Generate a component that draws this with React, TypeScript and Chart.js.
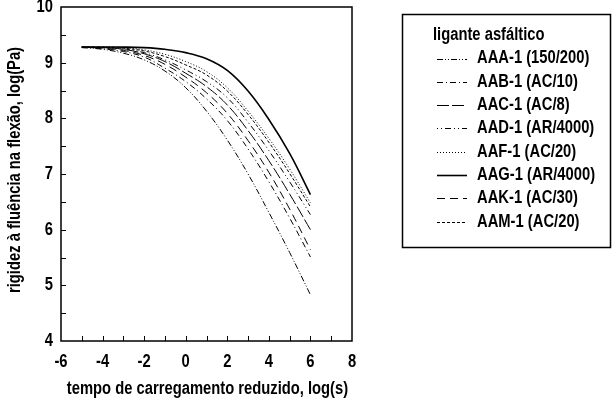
import React, { useEffect, useRef } from 'react';
import { Chart, registerables } from 'chart.js';

Chart.register(...registerables);

const xValues = [-5, -4, -3, -2, -1, 0, 1, 2, 3, 4, 5, 6];
const AAA = [9.27, 9.24, 9.17, 9.05, 8.85, 8.55, 8.13, 7.61, 7.0, 6.31, 5.59, 4.83];
const AAB = [9.28, 9.25, 9.2, 9.1, 8.9, 8.66, 8.35, 7.96, 7.45, 6.86, 6.21, 5.51];
const AAC = [9.28, 9.27, 9.24, 9.16, 9.02, 8.81, 8.57, 8.24, 7.78, 7.24, 6.64, 6.0];
const AAD = [9.28, 9.27, 9.25, 9.18, 9.05, 8.87, 8.66, 8.37, 7.93, 7.42, 6.86, 6.27];
const AAF = [9.28, 9.28, 9.27, 9.23, 9.15, 9.02, 8.84, 8.55, 8.13, 7.64, 7.09, 6.48];
const AAG = [9.28, 9.28, 9.28, 9.27, 9.24, 9.18, 9.07, 8.86, 8.49, 7.98, 7.37, 6.63];
const AAK = [9.28, 9.26, 9.22, 9.13, 8.97, 8.74, 8.46, 8.09, 7.6, 7.03, 6.37, 5.64];
const AAM = [9.28, 9.28, 9.26, 9.21, 9.11, 8.96, 8.78, 8.49, 8.07, 7.57, 7.01, 6.41];

const seriesLabels = [
  'AAA-1 (150/200)',
  'AAB-1 (AC/10)',
  'AAC-1 (AC/8)',
  'AAD-1 (AR/4000)',
  'AAF-1 (AC/20)',
  'AAG-1 (AR/4000)',
  'AAK-1 (AC/30)',
  'AAM-1 (AC/20)',
];
const seriesValues = [AAA, AAB, AAC, AAD, AAF, AAG, AAK, AAM];
const seriesDashes: number[][] = [
  [6, 2, 1, 2, 1, 2],
  [6, 3, 1, 3],
  [12, 3],
  [1, 3, 1, 3, 6, 3],
  [1, 2],
  [],
  [8, 5],
  [3, 2],
];
const seriesWidths = [1, 1, 1, 1, 1, 1.6, 1, 1];

const legendTitle = 'ligante asfáltico';
const xTitle = 'tempo de carregamento reduzido, log(s)';
const yTitle = 'rigidez à fluência na flexão, log(Pa)';

const FONT = 'bold 18px "Liberation Sans", Arial, sans-serif';
const CONDENSE = 0.82;

function drawText(ctx: any, text: string, x: number, y: number, align: string, rot = 0) {
  ctx.save();
  ctx.translate(x, y);
  if (rot) ctx.rotate(rot);
  ctx.scale(CONDENSE, 1);
  ctx.font = FONT;
  ctx.fillStyle = '#000';
  ctx.textAlign = align;
  ctx.textBaseline = 'middle';
  ctx.fillText(text, 0, 0);
  ctx.restore();
}

const framePlugin = {
  id: 'frameAndLegend',
  afterDraw(chart: any) {
    const ctx = chart.ctx;
    const { left, right, top, bottom } = chart.chartArea;
    const xs = chart.scales.x;
    const ys = chart.scales.y;
    ctx.save();
    ctx.strokeStyle = '#000';
    ctx.lineWidth = 1.5;
    ctx.setLineDash([]);
    ctx.strokeRect(left, top, right - left, bottom - top);
    ctx.lineWidth = 1;
    ctx.beginPath();
    for (let v = xs.min + 1; v < xs.max; v += 1) {
      const px = Math.round(xs.getPixelForValue(v)) + 0.5;
      ctx.moveTo(px, bottom);
      ctx.lineTo(px, bottom - 5);
    }
    for (let v = ys.min + 0.5; v < ys.max; v += 0.5) {
      const py = Math.round(ys.getPixelForValue(v)) + 0.5;
      ctx.moveTo(left, py);
      ctx.lineTo(left + 5, py);
    }
    ctx.stroke();

    // tick labels and axis titles
    xs.ticks.forEach((t: any) => {
      drawText(ctx, String(t.value), xs.getPixelForValue(t.value), bottom + 21, 'center');
    });
    ys.ticks.forEach((t: any) => {
      drawText(ctx, String(t.value), left - 8, ys.getPixelForValue(t.value), 'right');
    });
    drawText(ctx, xTitle, (left + right) / 2 + 1, 389, 'center');
    drawText(ctx, yTitle, 15, (top + bottom) / 2 - 4, 'center', -Math.PI / 2);

    // legend
    const bx = 402.5;
    const by = 14.5;
    const bw = 208;
    const bh = 233;
    ctx.lineWidth = 1.5;
    ctx.strokeRect(bx, by, bw, bh);
    drawText(ctx, legendTitle, 433, 35, 'left');
    chart.data.datasets.forEach((ds: any, i: number) => {
      const y = 58.5 + i * 23.3;
      ctx.lineWidth = ds.borderWidth;
      ctx.setLineDash(ds.borderDash || []);
      ctx.beginPath();
      ctx.moveTo(437, Math.round(y) + 0.5);
      ctx.lineTo(467, Math.round(y) + 0.5);
      ctx.stroke();
      ctx.setLineDash([]);
      drawText(ctx, ds.label, 477, y, 'left');
    });
    ctx.restore();
  },
};

export default function App() {
  const ref = useRef<HTMLCanvasElement | null>(null);

  useEffect(() => {
    document.body.style.margin = '0';
    const canvas = ref.current;
    if (!canvas) return;
    const chart = new Chart(canvas, {
      type: 'line',
      data: {
        datasets: seriesLabels.map((label, i) => ({
          label,
          data: xValues.map((x, j) => ({ x, y: seriesValues[i][j] })),
          borderColor: '#000',
          backgroundColor: '#000',
          borderWidth: seriesWidths[i],
          borderDash: seriesDashes[i],
          pointRadius: 0,
          fill: false,
          tension: 0.4,
        })),
      },
      options: {
        animation: false,
        responsive: false,
        devicePixelRatio: 1,
        layout: { padding: { top: 7, right: 260, left: 0, bottom: 0 } },
        plugins: {
          legend: { display: false },
          tooltip: { enabled: false },
        },
        scales: {
          x: {
            type: 'linear',
            min: -6,
            max: 8,
            grid: { display: false, drawTicks: false },
            border: { display: false },
            ticks: { stepSize: 2, display: false },
            afterFit: (s: any) => {
              s.height = 57;
              s.paddingLeft = 0;
              s.paddingRight = 0;
            },
          },
          y: {
            type: 'linear',
            min: 4,
            max: 10,
            grid: { display: false, drawTicks: false },
            border: { display: false },
            ticks: { stepSize: 1, display: false },
            afterFit: (s: any) => {
              s.width = 61;
              s.paddingTop = 0;
              s.paddingBottom = 0;
            },
          },
        },
      },
      plugins: [framePlugin],
    });
    return () => chart.destroy();
  }, []);

  return (
    <div style={{ position: 'fixed', left: 0, top: 0, width: 612, height: 398, background: '#fff' }}>
      <canvas ref={ref} width={612} height={398} style={{ width: 612, height: 398, display: 'block' }} />
    </div>
  );
}
